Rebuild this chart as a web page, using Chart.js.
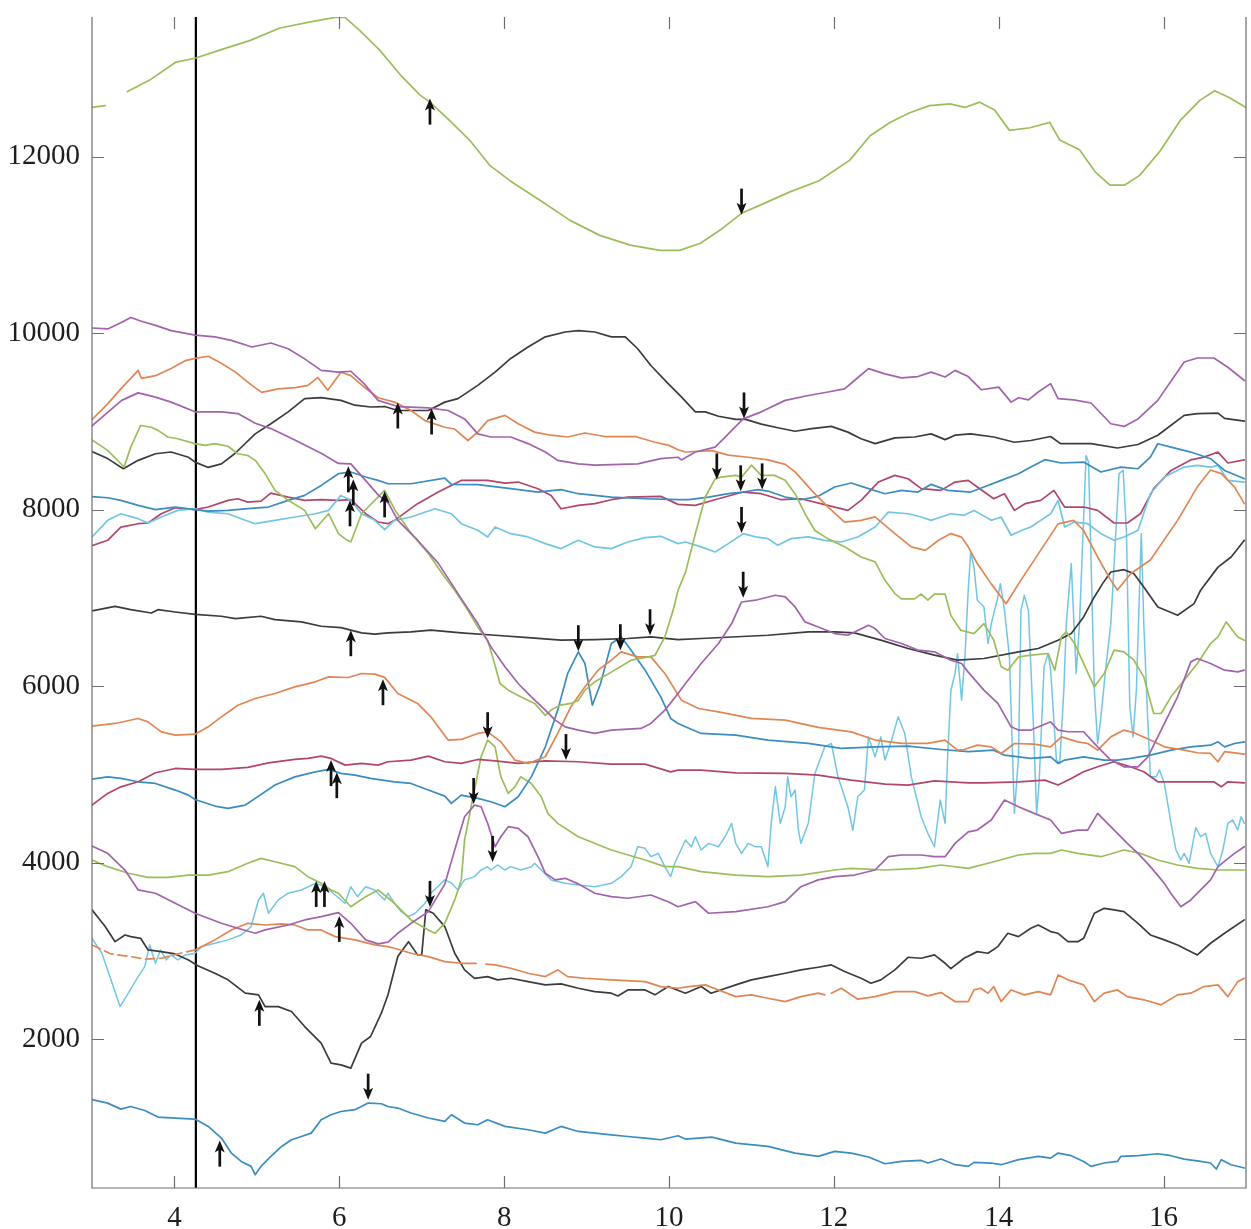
<!DOCTYPE html>
<html>
<head>
<meta charset="utf-8">
<script src="https://cdn.jsdelivr.net/npm/chart.js@4.4.1/dist/chart.umd.min.js"></script>
<style>
  html, body { margin: 0; padding: 0; background: #fff; }
  canvas { display: block; }
</style>
</head>
<body>
<canvas id="c" width="1251" height="1229"></canvas>
<script>
// Axis limits and tick labels
const xMin = 3, xMax = 17, yMin = 313, yMax = 13585;
const xTicks = [4, 6, 8, 10, 12, 14, 16];
const yTicks = [2000, 4000, 6000, 8000, 10000, 12000];
const markerX = 4.26;

// Traces: [x, y] pairs (null = break in the trace)
const greenTop = [[3,12560],[3.16,12580],[3.3,null],[3.43,12740],[3.70,12870],[4.01,13070],[4.26,13120],[4.55,13210],[4.92,13320],[5.28,13460],[5.65,13530],[5.95,13580],[6.07,13580],[6.25,13430],[6.49,13210],[6.74,12930],[6.98,12700],[7.10,12620],[7.34,12410],[7.58,12190],[7.83,11900],[8.07,11730],[8.43,11510],[8.80,11280],[9.16,11110],[9.53,11000],[9.89,10940],[10.13,10940],[10.38,11020],[10.62,11170],[10.88,11360],[11.10,11450],[11.46,11600],[11.82,11730],[12.19,11960],[12.44,12240],[12.68,12390],[12.92,12500],[13.16,12580],[13.41,12600],[13.59,12560],[13.77,12620],[13.95,12530],[14.13,12300],[14.38,12330],[14.62,12390],[14.74,12190],[14.98,12080],[15.17,11830],[15.35,11680],[15.53,11680],[15.71,11790],[15.96,12070],[16.20,12410],[16.44,12640],[16.62,12750],[16.80,12670],[17,12560]];

const purpleTop = [[3,10060],[3.19,10050],[3.35,10120],[3.47,10180],[3.59,10140],[3.77,10090],[3.96,10030],[4.25,9980],[4.49,9960],[4.69,9920],[4.94,9845],[5.17,9890],[5.38,9825],[5.58,9710],[5.78,9580],[5.99,9560],[6.14,9570],[6.30,9430],[6.47,9240],[6.71,9170],[7.08,9155],[7.32,9125],[7.52,9030],[7.68,8860],[7.84,8825],[8.08,8825],[8.29,8750],[8.50,8655],[8.65,8560],[8.90,8520],[9.10,8505],[9.62,8520],[9.90,8580],[10.11,8595],[10.15,8565],[10.32,8655],[10.56,8710],[10.72,8860],[10.90,9030],[11.12,9110],[11.41,9240],[11.69,9295],[11.93,9335],[12.13,9370],[12.25,9465],[12.42,9600],[12.62,9540],[12.82,9495],[13.02,9510],[13.18,9560],[13.35,9505],[13.47,9580],[13.63,9510],[13.79,9360],[14.0,9390],[14.15,9220],[14.24,9270],[14.36,9245],[14.48,9335],[14.63,9430],[14.72,9260],[14.91,9245],[15.12,9210],[15.36,8975],[15.52,8945],[15.69,9030],[15.93,9240],[16.25,9675],[16.41,9720],[16.61,9720],[16.78,9615],[16.98,9465]];

const orangeTop = [[3,9020],[3.19,9200],[3.35,9370],[3.47,9490],[3.56,9580],[3.60,9490],[3.77,9520],[3.96,9600],[4.13,9690],[4.25,9715],[4.41,9740],[4.57,9660],[4.74,9560],[4.94,9410],[5.06,9330],[5.26,9370],[5.47,9385],[5.62,9410],[5.74,9500],[5.86,9355],[6.02,9560],[6.14,9520],[6.31,9385],[6.47,9270],[6.67,9220],[6.87,9125],[7.04,9010],[7.28,8935],[7.40,8915],[7.56,8785],[7.68,8880],[7.80,9010],[8.01,9070],[8.17,8975],[8.37,8880],[8.57,8845],[8.77,8825],[8.98,8870],[9.22,8830],[9.59,8830],[9.83,8765],[10.0,8730],[10.11,8680],[10.20,8655],[10.52,8670],[10.72,8620],[10.96,8595],[11.20,8565],[11.41,8515],[11.53,8430],[11.73,8220],[11.93,8030],[12.13,7860],[12.33,7880],[12.50,7920],[12.74,7730],[12.94,7580],[13.11,7540],[13.27,7655],[13.42,7730],[13.55,7690],[13.63,7580],[13.74,7390],[13.91,7160],[14.09,6935],[14.24,7160],[14.48,7500],[14.72,7840],[14.91,7880],[15.03,7765],[15.20,7465],[15.36,7200],[15.44,7090],[15.60,7275],[15.84,7430],[16.17,7880],[16.41,8260],[16.57,8450],[16.70,8410],[16.86,8260],[16.98,8070]];

const purpleMid = [[3,8950],[3.36,9240],[3.56,9325],[3.76,9280],[3.96,9220],[4.25,9110],[4.57,9110],[4.77,9090],[4.98,8980],[5.17,8920],[5.46,8790],[5.78,8640],[5.99,8525],[6.14,8520],[6.32,8330],[6.48,8160],[6.60,8070],[6.71,7880],[6.95,7655],[7.20,7395],[7.44,7050],[7.52,6936],[7.68,6710],[7.84,6446],[8.01,6220],[8.17,6031],[8.33,5880],[8.50,5729],[8.62,5616],[8.74,5540],[8.90,5503],[9.10,5465],[9.30,5503],[9.66,5522],[9.78,5578],[9.95,5729],[10.11,5918],[10.20,6031],[10.39,6258],[10.60,6484],[10.76,6710],[10.88,6955],[11.05,6975],[11.29,7031],[11.41,7012],[11.53,6899],[11.65,6729],[11.81,6672],[12.01,6597],[12.17,6578],[12.42,6691],[12.50,6653],[12.62,6541],[12.82,6484],[13.02,6409],[13.22,6390],[13.42,6295],[13.55,6258],[13.63,6160],[13.82,5956],[13.99,5805],[14.15,5540],[14.24,5503],[14.39,5503],[14.63,5597],[14.72,5503],[14.84,5484],[15.03,5484],[15.20,5313],[15.36,5163],[15.52,5087],[15.69,5087],[15.81,5200],[15.97,5503],[16.17,5880],[16.33,6276],[16.41,6314],[16.57,6258],[16.74,6182],[16.90,6163],[16.98,6182]];

const greenMid = [[3,8790],[3.19,8673],[3.39,8485],[3.47,8710],[3.59,8955],[3.72,8935],[3.80,8900],[3.92,8825],[4.04,8805],[4.25,8750],[4.37,8730],[4.49,8750],[4.65,8720],[4.77,8635],[4.89,8615],[4.98,8560],[5.10,8410],[5.22,8220],[5.38,8107],[5.58,7993],[5.71,7785],[5.87,7955],[5.99,7730],[6.07,7670],[6.14,7635],[6.27,7955],[6.43,8107],[6.55,8220],[6.68,7990],[6.87,7735],[7.08,7505],[7.28,7235],[7.40,7088],[7.56,6861],[7.68,6670],[7.80,6522],[7.86,6333],[7.95,6031],[8.05,5955],[8.20,5880],[8.37,5805],[8.50,5670],[8.57,5730],[8.68,5785],[8.81,5805],[8.90,5840],[8.98,5955],[9.10,6050],[9.30,6160],[9.54,6295],[9.75,6333],[9.83,6350],[9.95,6560],[10.05,6860],[10.11,7088],[10.20,7290],[10.32,7730],[10.44,8145],[10.56,8350],[10.63,8370],[10.81,8390],[10.88,8370],[11.00,8505],[11.12,8390],[11.28,8390],[11.41,8335],[11.53,8180],[11.65,7955],[11.77,7765],[11.93,7670],[12.13,7580],[12.33,7465],[12.50,7410],[12.62,7200],[12.74,7050],[12.82,6990],[12.98,6990],[13.06,7045],[13.14,6975],[13.22,7045],[13.35,7045],[13.42,6800],[13.54,6635],[13.70,6597],[13.82,6710],[13.94,6522],[14.03,6220],[14.11,6182],[14.24,6333],[14.39,6352],[14.60,6371],[14.68,6182],[14.76,6559],[14.82,6615],[14.92,6484],[15.03,6258],[15.16,5993],[15.28,6144],[15.40,6409],[15.52,6390],[15.64,6295],[15.76,6106],[15.88,5691],[15.97,5691],[16.09,5880],[16.25,6069],[16.41,6258],[16.57,6484],[16.66,6559],[16.76,6729],[16.90,6559],[16.98,6522]];

const blackTop = [[3,8660],[3.19,8580],[3.38,8465],[3.56,8560],[3.77,8635],[3.96,8655],[4.17,8595],[4.25,8540],[4.41,8480],[4.57,8520],[4.73,8635],[4.98,8860],[5.17,8975],[5.38,9110],[5.58,9260],[5.78,9270],[6.02,9240],[6.19,9185],[6.38,9165],[6.55,9170],[6.71,9125],[7.08,9125],[7.28,9220],[7.44,9260],[7.68,9410],[7.89,9560],[8.08,9715],[8.29,9845],[8.50,9960],[8.74,10015],[8.90,10030],[9.10,10015],[9.30,9960],[9.47,9960],[9.62,9825],[9.78,9635],[9.99,9430],[10.15,9280],[10.32,9110],[10.44,9110],[10.60,9060],[10.81,9025],[10.93,9025],[11.12,8970],[11.32,8930],[11.53,8890],[11.73,8920],[11.97,8945],[12.17,8880],[12.33,8805],[12.50,8750],[12.74,8815],[12.98,8825],[13.18,8860],[13.35,8795],[13.47,8845],[13.66,8860],[13.94,8825],[14.19,8765],[14.39,8785],[14.63,8830],[14.75,8750],[15.12,8750],[15.44,8700],[15.69,8740],[15.93,8845],[16.25,9070],[16.41,9090],[16.66,9095],[16.74,9035],[16.98,9005]];

const blueTop = [[3,8150],[3.19,8136],[3.35,8107],[3.56,8050],[3.77,8001],[4.01,8031],[4.25,8001],[4.41,7985],[4.65,7993],[4.89,8012],[5.14,8031],[5.38,8107],[5.58,8163],[5.78,8276],[5.99,8409],[6.14,8428],[6.32,8371],[6.47,8333],[6.59,8295],[6.87,8295],[7.28,8359],[7.36,8288],[7.68,8284],[8.08,8239],[8.41,8201],[8.69,8228],[8.90,8182],[9.30,8144],[9.71,8125],[10.11,8114],[10.24,8114],[10.48,8144],[10.72,8182],[10.90,8201],[11.08,8228],[11.20,8212],[11.41,8144],[11.60,8114],[11.81,8152],[12.01,8258],[12.21,8303],[12.42,8239],[12.62,8182],[12.82,8220],[13.02,8201],[13.18,8288],[13.38,8220],[13.66,8201],[13.82,8258],[14.03,8333],[14.24,8409],[14.39,8484],[14.56,8568],[14.76,8530],[15.03,8541],[15.24,8428],[15.48,8484],[15.69,8465],[15.84,8597],[15.93,8748],[16.09,8710],[16.33,8654],[16.57,8579],[16.74,8446],[16.98,8352]];

const cyanTop = [[3,7692],[3.19,7880],[3.35,7955],[3.56,7899],[3.68,7850],[3.89,7937],[4.04,7993],[4.25,8012],[4.41,7974],[4.65,7955],[4.81,7899],[4.98,7842],[5.22,7880],[5.46,7918],[5.71,7955],[5.87,7993],[6.02,8163],[6.14,8107],[6.27,7955],[6.43,7880],[6.55,7774],[6.67,7880],[6.87,7918],[7.16,8012],[7.36,7955],[7.48,7842],[7.68,7767],[7.80,7692],[7.89,7804],[8.08,7729],[8.29,7692],[8.50,7616],[8.69,7560],[8.90,7654],[9.10,7579],[9.30,7560],[9.50,7635],[9.71,7685],[9.90,7699],[10.11,7616],[10.20,7635],[10.39,7579],[10.56,7522],[10.72,7616],[10.90,7729],[11.05,7692],[11.20,7673],[11.32,7597],[11.48,7673],[11.69,7692],[11.89,7654],[12.09,7635],[12.29,7692],[12.50,7805],[12.66,7974],[12.90,7955],[13.06,7918],[13.18,7880],[13.30,7918],[13.42,7955],[13.58,7937],[13.70,7993],[13.91,7880],[14.03,7918],[14.15,7711],[14.28,7767],[14.39,7805],[14.51,7880],[14.63,7955],[14.72,8107],[14.80,7805],[14.92,7861],[15.08,7842],[15.24,7729],[15.40,7654],[15.52,7692],[15.69,7767],[15.84,8182],[16.01,8371],[16.25,8484],[16.41,8503],[16.57,8484],[16.66,8503],[16.78,8333],[16.98,8314]];

const redTop = [[3,7594],[3.19,7654],[3.35,7804],[3.56,7842],[3.68,7850],[3.84,7955],[4.01,8023],[4.25,8001],[4.41,8031],[4.65,8107],[4.77,8125],[4.89,8087],[5.05,8098],[5.17,8189],[5.38,8144],[5.58,8107],[5.78,8114],[5.99,8107],[6.14,8114],[6.32,7955],[6.47,7861],[6.59,7842],[6.67,7880],[6.95,8069],[7.20,8201],[7.48,8333],[7.80,8333],[8.01,8303],[8.17,8314],[8.41,8239],[8.57,8163],[8.69,8012],[8.90,8050],[9.10,8069],[9.30,8114],[9.50,8144],[9.90,8152],[10.11,8061],[10.32,8050],[10.60,8125],[10.90,8201],[11.12,8182],[11.36,8114],[11.60,8125],[11.84,8069],[12.17,7993],[12.33,8107],[12.54,8314],[12.74,8390],[12.90,8352],[13.06,8239],[13.30,8220],[13.47,8314],[13.63,8333],[13.74,8258],[13.94,8125],[14.07,8182],[14.19,7993],[14.32,8069],[14.51,8107],[14.67,8220],[14.80,8031],[15.03,8031],[15.20,7993],[15.40,7850],[15.56,7850],[15.72,7955],[15.88,8239],[16.09,8446],[16.33,8565],[16.49,8597],[16.66,8654],[16.78,8530],[16.98,8565]];

const blackMid = [[3,6853],[3.28,6906],[3.47,6868],[3.72,6830],[3.80,6868],[4.01,6841],[4.25,6815],[4.57,6793],[4.74,6766],[5.05,6793],[5.22,6755],[5.54,6729],[5.78,6680],[6.02,6665],[6.27,6605],[6.43,6590],[6.59,6605],[6.87,6615],[7.11,6635],[7.48,6605],[7.89,6578],[8.29,6552],[8.69,6522],[9.10,6529],[9.50,6541],[9.78,6560],[10.11,6529],[10.39,6541],[11.20,6578],[11.69,6615],[12.01,6615],[12.25,6604],[12.57,6522],[12.90,6428],[13.22,6352],[13.50,6295],[13.82,6314],[14.24,6390],[14.48,6428],[14.72,6522],[14.88,6597],[15.03,6786],[15.16,7012],[15.26,7163],[15.36,7295],[15.52,7321],[15.64,7276],[15.76,7125],[15.93,6899],[16.17,6804],[16.37,6936],[16.45,7088],[16.66,7350],[16.82,7465],[16.98,7654]];

const orangeMid = [[3,5547],[3.28,5578],[3.56,5634],[3.68,5596],[3.84,5483],[4.01,5446],[4.25,5457],[4.41,5540],[4.57,5653],[4.77,5785],[4.98,5861],[5.22,5918],[5.46,5993],[5.71,6050],[5.87,6106],[6.11,6099],[6.27,6144],[6.43,6137],[6.55,6100],[6.71,5918],[6.95,5805],[7.11,5653],[7.32,5390],[7.48,5397],[7.68,5465],[7.80,5483],[7.96,5370],[8.13,5163],[8.29,5125],[8.50,5201],[8.65,5465],[8.81,5767],[8.98,5993],[9.14,6182],[9.30,6295],[9.42,6390],[9.62,6333],[9.78,6333],[9.95,6144],[10.15,5842],[10.36,5748],[10.60,5710],[11.00,5635],[11.41,5616],[11.81,5533],[12.21,5483],[12.50,5390],[12.82,5352],[13.14,5352],[13.35,5390],[13.50,5276],[13.58,5283],[13.74,5332],[13.91,5313],[14.03,5238],[14.19,5351],[14.43,5343],[14.63,5313],[14.76,5426],[14.96,5370],[15.08,5351],[15.20,5276],[15.36,5426],[15.52,5503],[15.64,5473],[15.84,5390],[16.01,5313],[16.25,5276],[16.41,5246],[16.57,5238],[16.66,5144],[16.74,5258],[16.98,5230]];

const blueMid = [[3,4947],[3.19,4973],[3.35,4955],[3.56,4917],[3.77,4898],[4.01,4823],[4.17,4766],[4.25,4717],[4.49,4642],[4.65,4615],[4.86,4653],[4.98,4729],[5.22,4880],[5.46,4973],[5.71,5030],[5.87,5057],[6.02,5012],[6.19,4992],[6.38,4955],[6.67,4917],[6.87,4898],[7.08,4823],[7.28,4755],[7.36,4672],[7.48,4766],[7.68,4729],[7.84,4691],[8.01,4634],[8.17,4747],[8.33,4973],[8.50,5313],[8.65,5729],[8.77,6144],[8.90,6390],[8.98,6258],[9.07,5785],[9.17,6031],[9.30,6484],[9.42,6560],[9.54,6409],[9.71,6182],[9.90,5880],[10.02,5635],[10.11,5578],[10.20,5540],[10.39,5465],[10.81,5446],[11.20,5390],[11.69,5352],[12.09,5295],[12.50,5313],[12.90,5321],[13.30,5283],[13.63,5258],[13.94,5276],[14.07,5219],[14.39,5182],[14.63,5200],[14.72,5125],[14.80,5163],[15.03,5200],[15.28,5163],[15.44,5163],[15.60,5182],[15.84,5219],[16.09,5276],[16.33,5313],[16.57,5332],[16.66,5370],[16.74,5313],[16.86,5351],[16.98,5370]];

const redMid = [[3,4653],[3.19,4785],[3.35,4860],[3.56,4917],[3.77,5019],[4.01,5068],[4.25,5057],[4.57,5057],[4.89,5080],[5.14,5132],[5.46,5170],[5.62,5182],[5.78,5208],[5.90,5182],[6.07,5106],[6.27,5125],[6.47,5106],[6.59,5144],[6.87,5163],[7.08,5208],[7.28,5144],[7.48,5125],[7.68,5170],[7.89,5155],[8.17,5125],[8.50,5155],[8.90,5144],[9.30,5117],[9.71,5117],[10.02,5030],[10.11,5050],[10.39,5050],[10.81,5019],[11.41,5012],[11.81,4992],[12.21,4936],[12.62,4891],[12.90,4880],[13.22,4928],[13.63,4905],[13.82,4905],[14.24,4917],[14.56,4936],[14.72,4880],[14.88,4955],[15.03,5030],[15.20,5087],[15.40,5144],[15.60,5087],[15.76,5030],[15.93,4917],[16.25,4917],[16.61,4917],[16.70,4860],[16.78,4917],[16.98,4905]];

const purpleLow = [[3,4188],[3.19,4106],[3.40,3917],[3.56,3691],[3.77,3654],[4.01,3540],[4.25,3427],[4.41,3370],[4.57,3313],[4.77,3257],[4.98,3200],[5.10,3238],[5.38,3294],[5.58,3351],[5.78,3389],[5.99,3434],[6.14,3313],[6.32,3125],[6.47,3080],[6.59,3100],[6.71,3200],[6.87,3313],[7.08,3445],[7.28,3757],[7.40,4144],[7.52,4521],[7.64,4653],[7.72,4634],[7.80,4446],[7.89,4181],[7.96,4294],[8.05,4408],[8.17,4389],[8.29,4294],[8.41,4068],[8.50,3880],[8.62,3805],[8.74,3823],[8.90,3760],[9.10,3654],[9.30,3615],[9.50,3597],[9.78,3634],[9.99,3558],[10.11,3501],[10.32,3558],[10.48,3427],[10.81,3445],[11.20,3501],[11.41,3558],[11.60,3728],[11.81,3805],[12.01,3842],[12.25,3860],[12.50,3917],[12.66,4068],[12.82,4087],[13.06,4087],[13.22,4068],[13.35,4068],[13.47,4219],[13.63,4350],[13.74,4370],[13.91,4484],[14.07,4710],[14.24,4635],[14.43,4559],[14.63,4484],[14.76,4333],[14.96,4370],[15.08,4370],[15.20,4559],[15.32,4446],[15.44,4333],[15.56,4219],[15.69,4106],[15.84,3955],[16.01,3766],[16.09,3650],[16.21,3501],[16.33,3578],[16.57,3805],[16.66,3955],[16.86,4106],[16.98,4181]];

const greenLow = [[3,4031],[3.19,3955],[3.44,3880],[3.68,3834],[3.92,3834],[4.17,3860],[4.41,3860],[4.65,3898],[4.89,3993],[5.05,4049],[5.22,4011],[5.46,3955],[5.62,3842],[5.78,3766],[5.90,3691],[5.99,3654],[6.14,3501],[6.32,3615],[6.47,3691],[6.67,3540],[6.87,3351],[7.08,3238],[7.16,3200],[7.28,3313],[7.40,3578],[7.48,3805],[7.52,4257],[7.64,4824],[7.72,5200],[7.80,5390],[7.89,5313],[7.96,4973],[8.05,4785],[8.13,4860],[8.20,4973],[8.33,4898],[8.45,4747],[8.53,4559],[8.65,4446],[8.90,4294],[9.30,4144],[9.71,4031],[9.95,3955],[10.11,3955],[10.39,3898],[10.81,3860],[11.20,3842],[11.60,3860],[12.01,3917],[12.21,3936],[12.62,3917],[13.02,3936],[13.30,3974],[13.63,3936],[13.94,4011],[14.24,4087],[14.43,4106],[14.63,4106],[14.76,4144],[14.96,4106],[15.24,4068],[15.52,4144],[15.72,4106],[15.93,4031],[16.17,3974],[16.41,3936],[16.66,3917],[16.98,3917]];

const blackLow = [[3,3465],[3.16,3276],[3.28,3105],[3.40,3181],[3.47,3162],[3.59,3143],[3.68,3011],[3.84,2992],[4.01,2966],[4.17,2898],[4.29,2830],[4.49,2747],[4.65,2672],[4.86,2521],[5.02,2502],[5.10,2369],[5.26,2369],[5.42,2313],[5.58,2143],[5.78,1955],[5.90,1728],[6.02,1709],[6.14,1672],[6.27,1955],[6.38,2030],[6.51,2294],[6.59,2500],[6.71,2936],[6.84,3105],[6.95,2955],[7.00,2955],[7.05,3465],[7.14,3427],[7.28,3276],[7.40,2974],[7.52,2785],[7.64,2689],[7.80,2709],[7.92,2672],[8.08,2690],[8.29,2652],[8.50,2615],[8.69,2626],[8.90,2577],[9.10,2539],[9.30,2521],[9.38,2490],[9.50,2558],[9.71,2558],[9.83,2502],[9.99,2596],[10.20,2521],[10.39,2596],[10.51,2521],[10.81,2615],[11.00,2672],[11.20,2709],[11.41,2747],[11.60,2785],[11.81,2815],[11.97,2841],[12.13,2766],[12.33,2690],[12.45,2634],[12.57,2672],[12.74,2785],[12.90,2928],[13.06,2917],[13.22,2955],[13.35,2860],[13.42,2800],[13.58,2917],[13.74,2992],[13.87,2974],[13.99,3049],[14.11,3200],[14.24,3162],[14.39,3257],[14.48,3294],[14.63,3219],[14.72,3200],[14.84,3105],[14.96,3105],[15.03,3143],[15.16,3427],[15.28,3483],[15.40,3465],[15.52,3445],[15.69,3313],[15.84,3181],[16.01,3125],[16.17,3068],[16.41,2955],[16.57,3087],[16.74,3200],[16.86,3276],[16.98,3352]];

const orangeLow = [[3,3068],[3.23,2966],[3.47,2936],[3.64,2906],[3.84,2917],[4.04,2966],[4.25,3011],[4.49,3125],[4.69,3238],[4.89,3313],[5.10,3294],[5.30,3306],[5.46,3294],[5.62,3238],[5.78,3238],[5.95,3162],[6.19,3125],[6.43,3068],[6.59,3049],[6.67,3030],[6.87,2974],[7.08,2936],[7.28,2879],[7.48,2860],[7.66,2860],[7.72,null],[7.78,2850],[7.89,2841],[8.08,2804],[8.29,2747],[8.50,2709],[8.65,2785],[8.77,2709],[8.98,2690],[9.30,2672],[9.71,2652],[9.90,2596],[10.11,2577],[10.24,2596],[10.44,2615],[10.60,2558],[10.81,2482],[11.00,2502],[11.20,2464],[11.41,2426],[11.60,2482],[11.81,2521],[11.89,2502],[11.93,null],[11.97,2521],[12.09,2577],[12.29,2453],[12.50,2482],[12.74,2539],[12.98,2539],[13.14,2490],[13.30,2528],[13.47,2426],[13.63,2426],[13.70,2558],[13.78,2577],[13.87,2521],[13.94,2596],[14.03,2426],[14.15,2558],[14.31,2502],[14.48,2539],[14.63,2502],[14.72,2728],[14.84,2672],[15.03,2615],[15.16,2426],[15.28,2521],[15.44,2558],[15.56,2482],[15.76,2446],[15.97,2389],[16.17,2502],[16.33,2521],[16.49,2596],[16.66,2615],[16.78,2482],[16.90,2652],[16.98,2690]];

const blueLow = [[3,1314],[3.19,1275],[3.35,1207],[3.47,1237],[3.64,1192],[3.80,1117],[4.01,1105],[4.25,1094],[4.41,1011],[4.57,879],[4.69,709],[4.81,614],[4.93,558],[4.98,464],[5.05,558],[5.17,671],[5.30,784],[5.42,860],[5.54,897],[5.66,935],[5.78,1086],[5.90,1143],[6.02,1180],[6.19,1201],[6.35,1276],[6.51,1268],[6.59,1237],[6.71,1219],[6.87,1163],[7.08,1106],[7.28,1068],[7.36,1143],[7.52,1049],[7.68,1030],[7.80,1086],[8.01,1011],[8.29,973],[8.50,935],[8.69,1011],[8.90,954],[9.10,935],[9.30,916],[9.50,897],[9.71,879],[9.90,860],[10.11,905],[10.20,868],[10.52,890],[10.81,822],[11.20,784],[11.53,709],[11.81,671],[12.01,728],[12.21,709],[12.42,664],[12.62,588],[12.82,614],[13.06,625],[13.14,596],[13.30,641],[13.47,577],[13.63,558],[13.70,603],[13.91,596],[14.03,577],[14.24,634],[14.48,671],[14.63,652],[14.72,709],[14.88,679],[15.03,614],[15.12,558],[15.28,596],[15.44,614],[15.48,671],[15.69,679],[15.93,701],[16.09,679],[16.25,641],[16.45,614],[16.57,596],[16.64,528],[16.70,634],[16.82,577],[16.98,540]];

const cyanLow = [[3,3143],[3.12,2974],[3.23,2672],[3.34,2369],[3.44,2521],[3.56,2709],[3.64,2822],[3.70,3068],[3.77,2860],[3.83,3011],[3.90,2898],[3.96,2955],[4.04,2898],[4.13,2955],[4.25,2974],[4.33,3049],[4.49,3087],[4.65,3125],[4.81,3181],[4.93,3276],[5.02,3578],[5.08,3654],[5.14,3427],[5.26,3578],[5.38,3654],[5.54,3691],[5.71,3766],[5.83,3728],[5.95,3634],[6.07,3540],[6.14,3728],[6.22,3615],[6.32,3728],[6.43,3691],[6.55,3578],[6.59,3654],[6.67,3540],[6.75,3445],[6.84,3389],[6.92,3427],[7.04,3540],[7.11,3654],[7.28,3805],[7.36,3770],[7.44,3690],[7.52,3805],[7.64,3842],[7.72,3917],[7.80,3955],[7.84,3917],[7.92,3974],[8.01,3917],[8.08,3955],[8.20,3917],[8.33,3955],[8.37,3993],[8.45,3917],[8.57,3805],[8.74,3766],[8.90,3748],[9.10,3728],[9.30,3766],[9.42,3842],[9.54,3955],[9.62,4181],[9.71,4163],[9.78,4068],[9.87,4106],[9.95,3955],[10.02,3842],[10.07,3993],[10.20,4257],[10.27,4181],[10.32,4294],[10.39,4144],[10.48,4219],[10.60,4181],[10.68,4294],[10.76,4446],[10.81,4219],[10.88,4106],[10.96,4219],[11.05,4181],[11.12,4181],[11.20,3955],[11.24,4446],[11.29,4860],[11.35,4446],[11.41,4634],[11.44,4973],[11.48,4747],[11.53,4824],[11.57,4370],[11.60,4219],[11.69,4446],[11.77,5012],[11.89,5313],[11.97,5351],[12.05,4973],[12.17,4634],[12.23,4370],[12.29,4747],[12.37,4824],[12.42,5426],[12.50,5200],[12.57,5426],[12.62,5163],[12.70,5389],[12.78,5653],[12.86,5465],[12.94,4973],[13.06,4521],[13.14,4333],[13.22,4181],[13.29,4710],[13.35,4446],[13.38,5200],[13.42,5955],[13.47,6144],[13.50,6371],[13.55,5842],[13.59,6333],[13.63,7088],[13.66,7520],[13.70,7350],[13.74,6975],[13.82,6900],[13.87,6484],[13.91,6710],[13.99,7010],[14.02,7163],[14.07,6860],[14.13,6333],[14.19,4559],[14.24,5200],[14.27,6860],[14.31,7030],[14.36,6860],[14.42,5580],[14.46,4559],[14.49,4900],[14.55,6220],[14.60,6371],[14.63,6182],[14.70,5163],[14.74,5125],[14.79,5955],[14.82,6710],[14.88,7390],[14.94,6144],[14.98,6710],[15.06,8615],[15.09,8540],[15.16,5955],[15.20,5351],[15.24,5650],[15.30,6220],[15.36,6710],[15.46,8409],[15.51,8446],[15.55,7730],[15.59,5768],[15.63,5426],[15.67,5955],[15.73,7730],[15.76,6710],[15.81,5580],[15.84,4973],[15.91,4973],[15.95,5050],[16.01,4900],[16.09,4446],[16.15,4144],[16.21,4031],[16.25,4106],[16.31,3993],[16.39,4400],[16.45,4294],[16.51,4333],[16.57,4106],[16.66,3955],[16.72,4144],[16.78,4446],[16.84,4484],[16.90,4370],[16.94,4521],[16.98,4446]];

// Event arrows: tip position and pointing direction
const arrowX   = [7.10, 6.71, 7.12, 6.11, 6.17, 6.13, 6.55, 6.14, 6.53, 5.90, 5.97, 5.72, 5.82, 6.00, 5.03, 4.55,
                  10.88, 10.91, 10.58, 10.87, 11.13, 10.88, 10.90, 8.90, 9.41, 9.77, 7.80, 8.75, 7.63, 7.86, 7.10, 6.35];
const arrowY   = [12660, 9216, 9148, 8492, 8345, 8107, 8209, 6635, 6080, 5163, 5026, 3793, 3793, 3397, 2446, 850,
                  11345, 9035, 8344, 8209, 8231, 7737, 7003, 6397, 6408, 6578, 5411, 5163, 4665, 4009, 3499, 1314];
const arrowDir = ['up','up','up','up','up','up','up','up','up','up','up','up','up','up','up','up',
                  'down','down','down','down','down','down','down','down','down','down','down','down','down','down','down','down'];

// Line colours
const GREEN = '#9cbd5c', PURPLE = '#a263ac', ORANGE = '#df8655', BLACK = '#3c3c3c',
      BLUE = '#3b8cbf', CYAN = '#72c6e4', CRIMSON = '#b0476a';

const pts = arr => arr.map(([x, y]) => ({ x, y }));

const traces = [
  { data: greenTop,  color: GREEN },
  { data: purpleTop, color: PURPLE },
  { data: orangeTop, color: ORANGE },
  { data: purpleMid, color: PURPLE },
  { data: greenMid,  color: GREEN },
  { data: blackTop,  color: BLACK },
  { data: blueTop,   color: BLUE },
  { data: cyanTop,   color: CYAN },
  { data: redTop,    color: CRIMSON },
  { data: blackMid,  color: BLACK },
  { data: orangeMid, color: ORANGE },
  { data: blueMid,   color: BLUE },
  { data: redMid,    color: CRIMSON },
  { data: purpleLow, color: PURPLE },
  { data: greenLow,  color: GREEN },
  { data: orangeLow, color: ORANGE, dashedBefore: 4.3 },
  { data: blackLow,  color: BLACK },
  { data: blueLow,   color: BLUE },
  { data: cyanLow,   color: CYAN, width: 1.5 }
];

const datasets = traces.map(t => ({
  data: pts(t.data),
  borderColor: t.color,
  borderWidth: t.width || 1.7,
  pointRadius: 0,
  fill: false,
  tension: 0,
  spanGaps: false,
  segment: t.dashedBefore ? { borderDash: ctx => (ctx.p1.parsed.x <= t.dashedBefore ? [9, 5] : undefined) } : undefined
}));

// Vertical reference line
datasets.push({
  data: [{ x: markerX, y: yMin }, { x: markerX, y: yMax }],
  borderColor: '#000', borderWidth: 2.2, pointRadius: 0, fill: false
});

// Box with inward ticks on all four sides
const boxPlugin = {
  id: 'box',
  afterDatasetsDraw(chart) {
    const { ctx, chartArea: a, scales: { x, y } } = chart;
    const L = 12;
    ctx.save();
    ctx.strokeStyle = '#6e6e6e';
    ctx.lineWidth = 1.2;
    ctx.beginPath();
    ctx.moveTo(a.left, a.top); ctx.lineTo(a.left, a.bottom);
    ctx.lineTo(a.right, a.bottom); ctx.lineTo(a.right, a.top);
    xTicks.forEach(v => {
      const px = Math.round(x.getPixelForValue(v)) + 0.5;
      ctx.moveTo(px, a.bottom); ctx.lineTo(px, a.bottom - L);
      ctx.moveTo(px, a.top); ctx.lineTo(px, a.top + L);
    });
    yTicks.forEach(v => {
      const py = Math.round(y.getPixelForValue(v)) + 0.5;
      ctx.moveTo(a.left, py); ctx.lineTo(a.left + L, py);
      ctx.moveTo(a.right, py); ctx.lineTo(a.right - L, py);
    });
    ctx.stroke();
    ctx.restore();
  }
};

// Arrow annotations
const arrowPlugin = {
  id: 'arrows',
  afterDatasetsDraw(chart) {
    const { ctx, scales: { x, y } } = chart;
    ctx.save();
    ctx.fillStyle = '#111';
    ctx.strokeStyle = '#111';
    ctx.lineWidth = 2.7;
    arrowX.forEach((ax, i) => {
      const px = x.getPixelForValue(ax);
      const py = y.getPixelForValue(arrowY[i]);
      const d = arrowDir[i] === 'up' ? 1 : -1;
      ctx.beginPath();
      ctx.moveTo(px, py + d * 26);
      ctx.lineTo(px, py + d * 8);
      ctx.stroke();
      ctx.beginPath();
      ctx.moveTo(px, py);
      ctx.lineTo(px - 5, py + d * 12);
      ctx.lineTo(px, py + d * 9);
      ctx.lineTo(px + 5, py + d * 12);
      ctx.closePath();
      ctx.fill();
    });
    ctx.restore();
  }
};

const tickFont = { family: '"Liberation Serif", "Times New Roman", serif', size: 29 };

new Chart(document.getElementById('c'), {
  type: 'line',
  data: { datasets },
  options: {
    responsive: false,
    animation: false,
    devicePixelRatio: 1,
    layout: { padding: { top: 17, right: 5, left: 0, bottom: 0 } },
    plugins: { legend: { display: false }, tooltip: { enabled: false } },
    elements: { line: { borderCapStyle: 'round', borderJoinStyle: 'round' } },
    scales: {
      x: {
        type: 'linear', min: xMin, max: xMax,
        grid: { display: false, drawTicks: false },
        border: { display: false },
        afterBuildTicks: s => { s.ticks = xTicks.map(v => ({ value: v })); },
        afterFit: s => { s.height = 41; s.paddingLeft = 0; s.paddingRight = 0; },
        ticks: { font: tickFont, color: '#1e1e1e', padding: 13, maxRotation: 0, autoSkip: false, callback: v => String(v) }
      },
      y: {
        type: 'linear', min: yMin, max: yMax,
        grid: { display: false, drawTicks: false },
        border: { display: false },
        afterBuildTicks: s => { s.ticks = yTicks.map(v => ({ value: v })); },
        afterFit: s => { s.width = 92; s.paddingTop = 0; s.paddingBottom = 0; },
        ticks: { font: tickFont, color: '#1e1e1e', padding: 12, autoSkip: false, callback: v => String(v) }
      }
    }
  },
  plugins: [boxPlugin, arrowPlugin]
});
</script>
</body>
</html>
